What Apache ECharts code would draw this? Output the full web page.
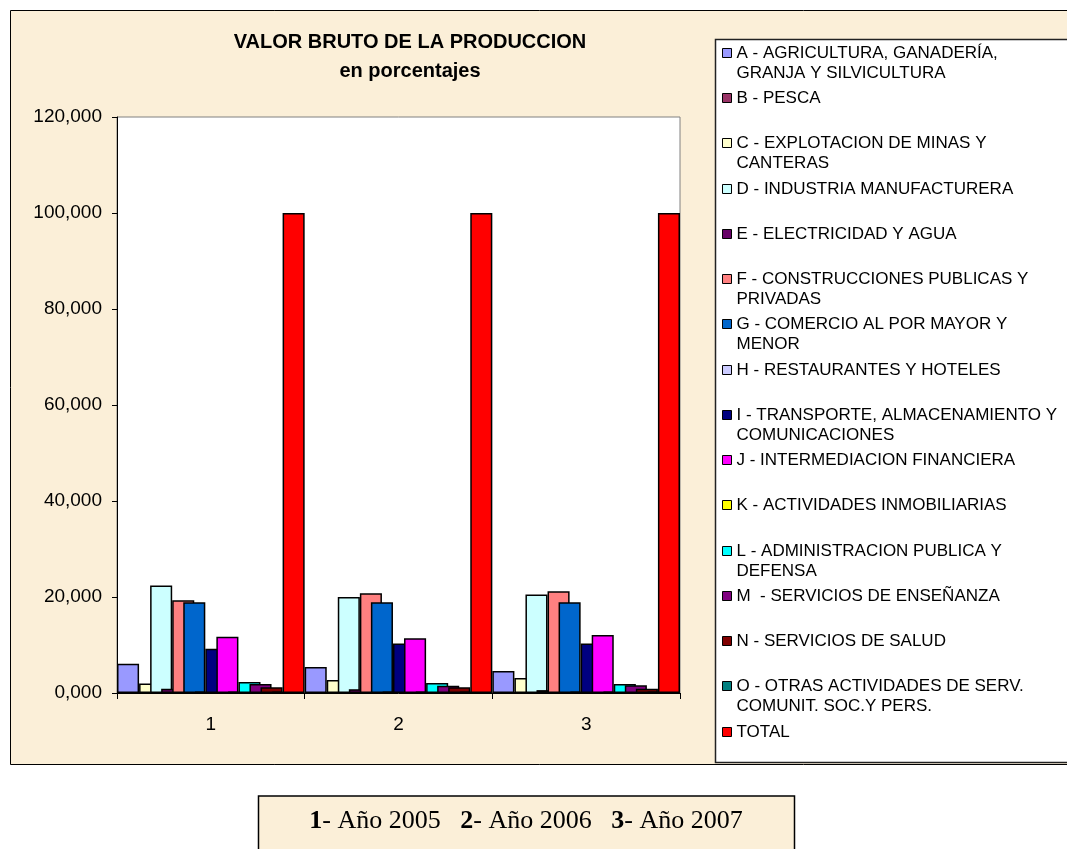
<!DOCTYPE html>
<html>
<head>
<meta charset="utf-8">
<script src="https://cdn.jsdelivr.net/npm/echarts@6/dist/echarts.min.js"></script>
<style>
  html, body { margin: 0; padding: 0; background: #ffffff; }
  #chart { width: 1067px; height: 849px; }
</style>
</head>
<body>
<div id="chart"></div>
<script>
// Categories (years 2005, 2006, 2007 shown as 1, 2, 3)
const years = ['1', '2', '3'];
const yTicks = [0, 20, 40, 60, 80, 100, 120];

// Sector labels, with the line breaks used in the legend
const sectorNames = [
  'A - AGRICULTURA, GANADERÍA,\nGRANJA Y SILVICULTURA',
  'B - PESCA',
  'C - EXPLOTACION DE MINAS Y\nCANTERAS',
  'D - INDUSTRIA MANUFACTURERA',
  'E - ELECTRICIDAD Y AGUA',
  'F - CONSTRUCCIONES PUBLICAS Y\nPRIVADAS',
  'G - COMERCIO AL POR MAYOR Y\nMENOR',
  'H - RESTAURANTES Y HOTELES',
  'I - TRANSPORTE, ALMACENAMIENTO Y\nCOMUNICACIONES',
  'J - INTERMEDIACION FINANCIERA',
  'K - ACTIVIDADES INMOBILIARIAS',
  'L - ADMINISTRACION PUBLICA Y\nDEFENSA',
  'M  - SERVICIOS DE ENSEÑANZA',
  'N - SERVICIOS DE SALUD',
  'O - OTRAS ACTIVIDADES DE SERV.\nCOMUNIT. SOC.Y PERS.',
  'TOTAL'
];

// Share of gross production value (%), one value per year
const agricultura     = [6.1, 5.4, 4.6];
const pesca           = [0.1, 0.1, 0.1];
const minas           = [2.0, 2.7, 3.1];
const industria       = [22.4, 20.0, 20.5];
const electricidad    = [0.9, 0.8, 0.6];
const construcciones  = [19.3, 20.8, 21.2];
const comercio        = [18.9, 18.9, 18.9];
const restaurantes    = [0.3, 0.3, 0.3];
const transporte      = [9.2, 10.3, 10.3];
const intermediacion  = [11.7, 11.4, 12.1];
const inmobiliarias   = [0.3, 0.3, 0.3];
const administracion  = [2.3, 2.1, 1.9];
const ensenanza       = [1.9, 1.5, 1.6];
const salud           = [1.2, 1.2, 0.9];
const otras           = [0.3, 0.3, 0.3];
const total           = [100, 100, 100];

const sectorValues = [agricultura, pesca, minas, industria, electricidad, construcciones,
  comercio, restaurantes, transporte, intermediacion, inmobiliarias, administracion,
  ensenanza, salud, otras, total];

const sectorColors = ['#9999FF', '#993366', '#FFFFCC', '#CCFFFF', '#660066', '#FF8080',
  '#0066CC', '#CCCCFF', '#000080', '#FF00FF', '#FFFF00', '#00FFFF', '#800080', '#800000',
  '#008080', '#FF0000'];

const SANS = '"Liberation Sans", Arial, sans-serif';
const SERIF = '"Liberation Serif", "Times New Roman", serif';
const PAPER = '#FBEFD8';

const chart = echarts.init(document.getElementById('chart'), null, { renderer: 'canvas' });

const series = sectorNames.map((name, i) => ({
  name: name,
  type: 'bar',
  data: sectorValues[i],
  barWidth: (100 * 2 / 17).toFixed(3) + '%',
  barGap: '-50%',
  barCategoryGap: 0,
  itemStyle: { color: sectorColors[i], borderColor: '#000000', borderWidth: 1.5 },
  emphasis: { disabled: true },
  animation: false
}));

// One legend per entry so each row sits on the same 45px pitch.
// Two-line labels get an empty leading line so the swatch, which is
// centred on the text block, lines up with the first line of text.
const legends = sectorNames.map((name, i) => {
  const twoLines = name.indexOf('\n') >= 0;
  const yc = 52.7 + 45.27 * i;
  return {
    show: true,
    orient: 'vertical',
    left: 722,
    top: Math.round(yc - (twoLines ? 30 : 10)),
    padding: 0,
    itemGap: 0,
    itemWidth: 9,
    itemHeight: 9,
    icon: 'rect',
    selectedMode: false,
    data: [name],
    formatter: n => (n.indexOf('\n') >= 0 ? '\n' + n : n),
    itemStyle: { borderColor: '#000000', borderWidth: 1 },
    textStyle: {
      fontFamily: SANS,
      fontSize: 17,
      lineHeight: 20,
      color: '#000000'
    }
  };
});

const option = {
  animation: false,
  backgroundColor: '#ffffff',
  title: [
    {
      text: 'VALOR BRUTO DE LA PRODUCCION\nen porcentajes',
      left: 410,
      top: 28,
      padding: 0,
      textAlign: 'center',
      textStyle: { fontFamily: SANS, fontSize: 20, fontWeight: 'bold', lineHeight: 29, color: '#000000' }
    },
    {
      text: '{b|1}- Año 2005   {b|2}- Año 2006   {b|3}- Año 2007',
      left: 526,
      top: 808,
      padding: 0,
      textAlign: 'center',
      textStyle: {
        fontFamily: SERIF, fontSize: 26, fontWeight: 'normal', color: '#000000',
        rich: { b: { fontFamily: SERIF, fontSize: 26, fontWeight: 'bold', color: '#000000' } }
      }
    }
  ],
  graphic: [
    // chart area (paper background)
    { type: 'rect', z: -20, shape: { x: 10.5, y: 10.5, width: 1080, height: 754 },
      style: { fill: PAPER, stroke: '#000000', lineWidth: 1 } },
    // legend panel
    { type: 'rect', z: -15, shape: { x: 715.5, y: 39.5, width: 380, height: 723 },
      style: { fill: '#ffffff', stroke: '#222222', lineWidth: 1.5 } },
    // caption box under the chart
    { type: 'rect', z: -20, shape: { x: 258.5, y: 796, width: 536, height: 70 },
      style: { fill: PAPER, stroke: '#000000', lineWidth: 1.5 } }
  ],
  legend: legends,
  grid: {
    left: 117, right: 387, top: 117, bottom: 156,
    show: true, backgroundColor: '#ffffff', borderColor: '#808080', borderWidth: 1,
    containLabel: false
  },
  xAxis: {
    type: 'category',
    data: years,
    boundaryGap: true,
    axisLine: { show: true, lineStyle: { color: '#000000', width: 1 } },
    axisTick: { show: true, alignWithLabel: false, interval: 0, length: 6, lineStyle: { color: '#000000' } },
    axisLabel: { fontFamily: SANS, fontSize: 19, color: '#000000', margin: 22 },
    splitLine: { show: false }
  },
  yAxis: {
    type: 'value',
    min: yTicks[0],
    max: yTicks[yTicks.length - 1],
    interval: yTicks[1] - yTicks[0],
    axisLine: { show: true, lineStyle: { color: '#000000', width: 1 } },
    axisTick: { show: true, length: 5, lineStyle: { color: '#000000' } },
    axisLabel: {
      fontFamily: SANS, fontSize: 19, color: '#000000', margin: 15,
      formatter: v => v.toFixed(3).replace('.', ',')
    },
    splitLine: { show: false }
  },
  series: series
};

chart.setOption(option);
</script>
</body>
</html>
